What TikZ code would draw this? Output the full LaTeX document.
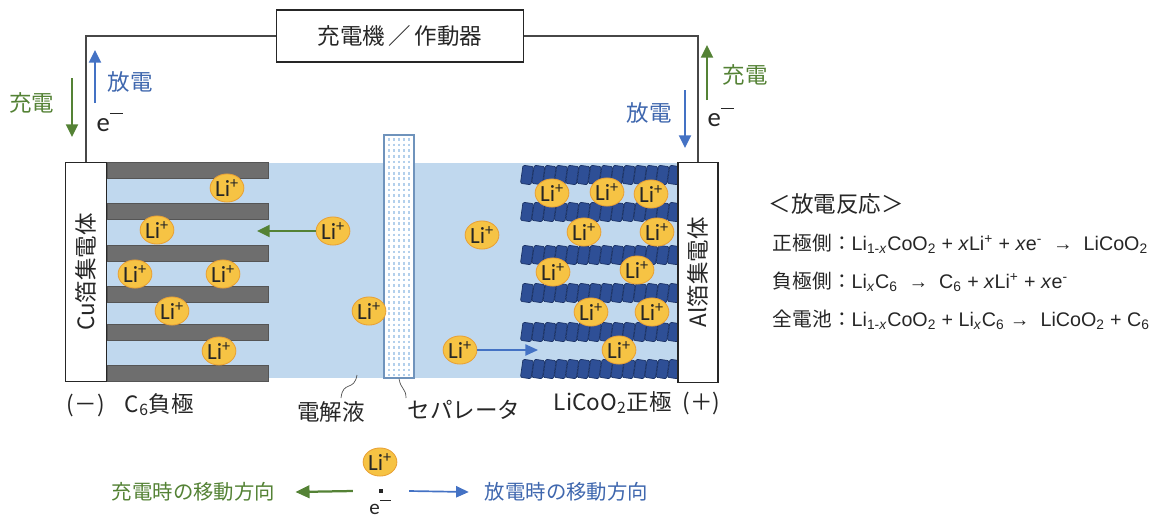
\documentclass[tikz,border=0pt]{standalone}
\usepackage{fontspec}
\setmainfont{Noto Sans CJK JP}
\newfontfamily\ionfont{Carlito}
\newfontfamily\eqfont{Liberation Sans}
\usepackage{xcolor}
\usepackage{graphicx}
\usepackage{tikz}
\usetikzlibrary{arrows.meta,calc,positioning,shapes.geometric}

\definecolor{chgreen}{HTML}{548235}
\definecolor{disblue}{HTML}{4472C4}
\definecolor{distext}{HTML}{3F67AE}
\definecolor{elyte}{HTML}{C0D8EE}
\definecolor{graphite}{HTML}{6E6E6E}
\definecolor{graphitedark}{HTML}{555555}
\definecolor{cobalt}{HTML}{2E4F96}
\definecolor{cobaltdark}{HTML}{1C3366}
\definecolor{ionfill}{HTML}{F6C344}
\definecolor{ionedge}{HTML}{E8A035}
\definecolor{sepedge}{HTML}{6F93BC}
\definecolor{sepdash}{HTML}{B3D0EC}
\definecolor{ink}{HTML}{262626}

\newcommand{\lip}{Li\textsuperscript{+}}
\newcommand{\elec}{{\ionfont e\raisebox{0.62em}{\rule{0.5em}{0.06em}}}}

\begin{document}
\begin{tikzpicture}[x=0.025cm,y=-0.025cm,font=\fontsize{16}{18}\selectfont,text=ink]
\tikzset{ion/.style = {ellipse,fill=ionfill,draw=ionedge,line width=0.6pt,inner sep=0pt,
  minimum width=23.5pt,minimum height=20pt,font=\ionfont\fontsize{16.5}{16.5}\selectfont}}
\tikzset{collector/.style = {draw=ink,line width=0.9pt,fill=white,inner sep=0pt,
  minimum width=29pt,minimum height=156pt}}
\tikzset{wire/.style = {draw=ink!85,line width=0.9pt}}
\tikzset{plate/.style = {fill=graphite,draw=graphitedark,line width=0.4pt}}
\tikzset{tile/.style = {fill=cobalt,draw=cobaltdark,line width=0.5pt,rounded corners=1pt,
  minimum width=7.6pt,minimum height=13pt,inner sep=0pt,rotate=-8}}
\tikzset{chg/.style = {draw=chgreen,line width=1.6pt,-{Triangle[length=9pt,width=8.5pt]}}}
\tikzset{dis/.style = {draw=disblue,line width=1.6pt,-{Triangle[length=9pt,width=8.5pt]}}}
\tikzset{leader/.style = {draw=ink!80,line width=0.5pt}}
\tikzset{elab/.style = {font=\fontsize{19}{20}\selectfont}}
\useasboundingbox (0,0) rectangle (1161,522);

% electrolyte between the collectors
\fill[elyte] (107,163) rectangle (680,378);

% graphite layers of the negative electrode
\foreach \py in {162,203,245,286,324,365}
  \filldraw[plate] (107,\py) rectangle (268,{\py+16});

% LiCoO2 layers of the positive electrode
\foreach \ty in {175,212,255,293,332,369}
  \foreach \k in {0,...,13}
    \node[tile] at ({527+\k*11.3},\ty) {};

% separator
\node[draw=sepedge,fill=white,line width=0.9pt,inner sep=0pt,
  minimum width=21.3pt,minimum height=172.9pt] (sep) at (399,256.5) {};
\foreach \dx in {389,394,399,404,409}
  \draw[sepdash,line width=1pt,dash pattern=on 2pt off 2pt] (\dx,138) -- (\dx,376);

% current collectors and the charger
\node[collector] (cu) at (86,272) {\rotatebox{90}{Cu箔集電体}};
\node[collector,minimum width=28.5pt] (al) at (698,272.5) {\rotatebox{90}{Al箔集電体}};
\node[draw=ink,line width=0.9pt,fill=white,minimum width=176pt,minimum height=37pt] (dev) at (400,36) {充電機\,／\,作動器};
\draw[wire] (dev.west) -| (cu.north);
\draw[wire] (dev.east) -| (al.north);

% electron flow at both leads
\coordinate (cuDown0) at (72,78);
\coordinate (cuDown1) at (72,137);
\coordinate (cuUp0) at (95,103);
\coordinate (cuUp1) at (95,50);
\draw[chg] (cuDown0) -- (cuDown1);
\draw[dis] (cuUp0) -- (cuUp1);
\node[text=chgreen] (chgL) at (32,103) {充電};
\node[text=distext] (disL) at (130,82) {放電};
\node[elab] (eL) at (110,122) {\elec};

\coordinate (alDown0) at (685,90);
\coordinate (alDown1) at (685,148);
\coordinate (alUp0) at (707,100);
\coordinate (alUp1) at (707,45);
\draw[dis] (alDown0) -- (alDown1);
\draw[chg] (alUp0) -- (alUp1);
\node[text=distext] (disR) at (649,113) {放電};
\node[text=chgreen] (chgR) at (745,75) {充電};
\node[elab] (eR) at (721,117) {\elec};

% lithium ions
\foreach \ix/\iy [count=\n] in {227/188,157/230,135/274,223/274,172/311,219/351,
    333/231,369/311,482/235,460/350,
    552/193,607/192,651/194,584/232,657/232,553/272,637/270,591/312,652/312,619/350}
  \node[ion] (li\n) at (\ix,\iy) {\lip};

\coordinate (inTip) at (257,231);
\coordinate (outTip) at (538,350);
\draw[draw=chgreen,line width=1.6pt,-{Triangle[length=9pt,width=8.5pt]}] (li7.west) -- (inTip);
\draw[draw=disblue,line width=1pt,-{Triangle[length=9pt,width=8pt]}] (li10.east) -- (outTip);

% labels under the cell
\node[anchor=west] (neg) at (62,405) {(－)\hspace{0.9em}C\textsubscript{6}負極};
\node[anchor=west] (pos) at (549,403) {LiCoO\textsubscript{2}正極\hspace{0.5em}(＋)};
\node (lblElyte) at (331,412) {電解液};
\node[anchor=west] (lblSep) at (403,410) {セパレータ};
\coordinate (elytePt) at (357,375);
\draw[leader] (elytePt) .. controls (354,392) and (343,380) .. (341,398);
\draw[leader] (sep.south) .. controls (401,390) and (406,388) .. (406,398);

% discharge reactions
\node[anchor=west] (rxHead) at (764,204) {＜放電反応＞};
\node[anchor=west,font=\fontsize{14}{15}\selectfont] (rxPos) at (768,244)
  {正極側：{\eqfont Li\textsubscript{1-\textit{x}}CoO\textsubscript{2} + \textit{x}Li\textsuperscript{+} + \textit{x}e\textsuperscript{-} \ → \ LiCoO\textsubscript{2}}};
\node[anchor=west,font=\fontsize{14}{15}\selectfont] (rxNeg) at (768,282)
  {負極側：{\eqfont Li\textsubscript{\textit{x}}C\textsubscript{6} \ → \ C\textsubscript{6} + \textit{x}Li\textsuperscript{+} + \textit{x}e\textsuperscript{-}}};
\node[anchor=west,font=\fontsize{14}{15}\selectfont] (rxAll) at (768,320)
  {全電池：{\eqfont Li\textsubscript{1-\textit{x}}CoO\textsubscript{2} + Li\textsubscript{\textit{x}}C\textsubscript{6} → \ LiCoO\textsubscript{2} + C\textsubscript{6}}};

% legend
\node[ion] (legIon) at (380,462) {\lip};
\node[fill=ink,minimum size=3pt,inner sep=0pt] (legDot) at (381,491) {};
\node[font=\fontsize{15}{15}\selectfont,inner sep=0pt] (legE) at (380,507) {\elec};
\node[anchor=east,text=chgreen,font=\fontsize{14.5}{16}\selectfont] (legChg) at (280,492) {充電時の移動方向};
\node[anchor=west,text=distext,font=\fontsize{14.5}{16}\selectfont] (legDis) at (480,492) {放電時の移動方向};
\draw[draw=chgreen,line width=1.6pt,-{Triangle[length=10pt,width=9pt]}] ([xshift=-20pt]legDot.center) -- ([xshift=11pt]legChg.east);
\draw[draw=disblue,line width=1.2pt,-{Triangle[length=9pt,width=8pt]}] ([xshift=20pt]legDot.center) -- ([xshift=-8pt]legDis.west);
\end{tikzpicture}
\end{document}
